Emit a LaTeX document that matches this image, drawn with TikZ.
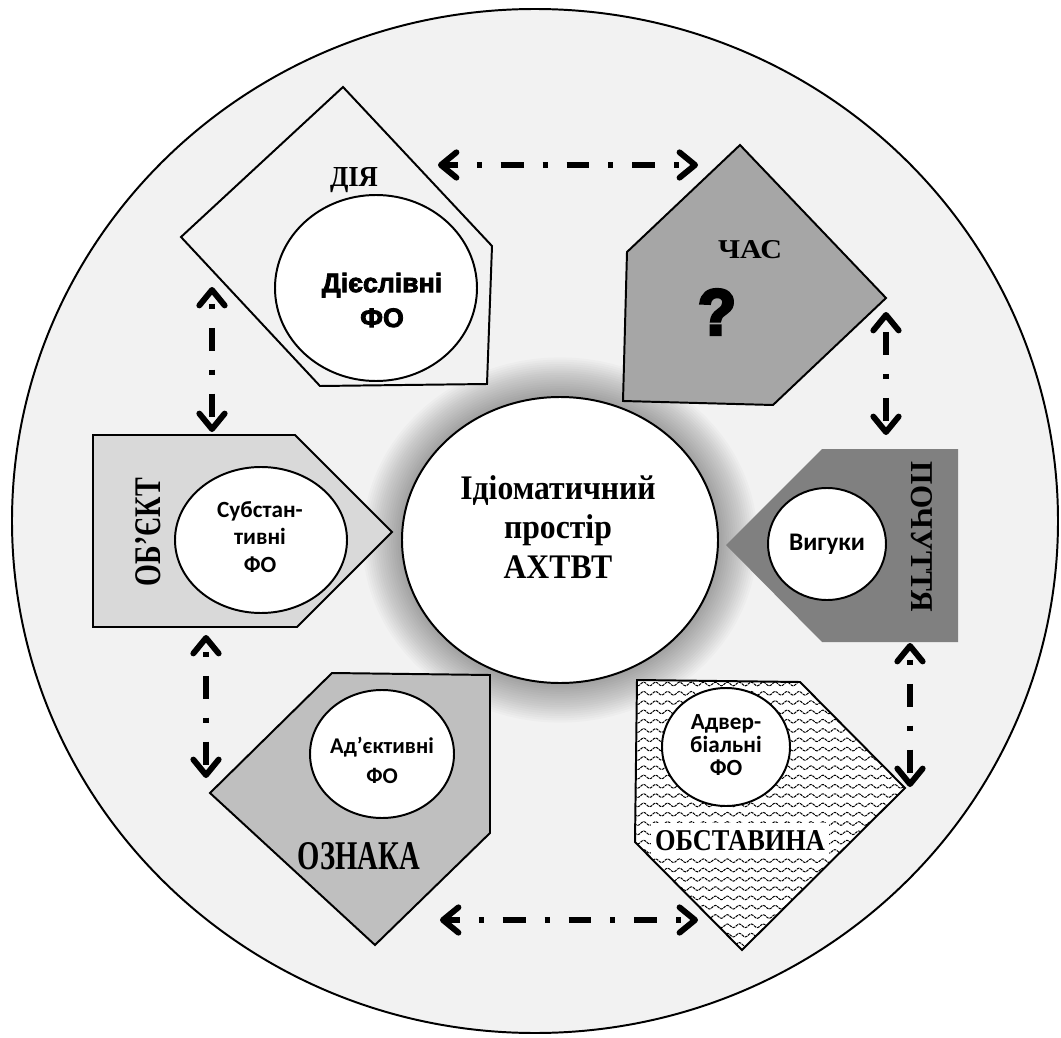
\documentclass[tikz,border=0pt]{standalone}
\usepackage{fontspec}
\setmainfont{Liberation Serif}
\newfontfamily\calfont{Carlito}
\newfontfamily\heavyfont{Liberation Sans Bold}[FakeBold=3]
\newfontfamily\blackfont{Liberation Sans Bold}[FakeBold=5]
\usetikzlibrary{shapes.geometric,arrows.meta,decorations.pathmorphing}
\newlength\upx \setlength\upx{0.025cm}
\definecolor{bgc}{HTML}{F2F2F2}
\definecolor{timec}{HTML}{A6A6A6}
\definecolor{objc}{HTML}{D9D9D9}
\definecolor{feelc}{HTML}{808080}
\definecolor{attrc}{HTML}{BFBFBF}
\begin{document}
\begin{tikzpicture}[x=0.025cm, y=-0.025cm,
  panel/.style={line width=1.4pt, line join=miter},
  disc/.style={ellipse, draw, line width=1.4pt, fill=white, inner sep=0pt},
  smalltxt/.style 2 args={align=center, inner sep=0pt, font=\calfont\bfseries\fontsize{#1}{#2}\selectfont},
  heavytxt/.style={align=center, inner sep=0pt, font=\heavyfont\fontsize{19pt}{24.8pt}\selectfont},
  tag/.style={inner sep=0pt, font=\bfseries},
  link/.style={line width=4.2pt, dash pattern=on 3.5pt off 13.5pt on 16.3pt off 13.5pt,
    arrows={Straight Barb[length=11pt,width=18pt,round]-Straight Barb[length=11pt,width=18pt,round]}},
  wave/.style={line width=0.7pt, dash pattern=on 2pt off 0.6pt, decorate,
    decoration={snake, segment length=8.5pt, amplitude=1.3pt}}
]
\useasboundingbox[fill=white] (0,0) rectangle (1061,1038);

% outer field
\draw[line width=1.4pt, fill=bgc] (535,521) ellipse [x radius=523, y radius=512];

% soft glow round the core, built from stacked translucent rings
\foreach \k in {1,...,18} {
  \fill[black, opacity=0.021] (560,540) ellipse [x radius={158+2.2*\k}, y radius={143+2.2*\k}];
}

% ДІЯ
\draw[panel, fill=bgc] (343,87) -- (492,246) -- (487,384) -- (320,386) -- (181,237) -- cycle;
% ЧАС
\draw[panel, fill=timec] (740,145) -- (886,298) -- (773,405) -- (623,401) -- (627,252) -- cycle;
% ОБ'ЄКТ
\draw[panel, fill=objc] (93,435) -- (295,435) -- (392,532) -- (297,627) -- (93,627) -- cycle;
% ПОЧУТТЯ
\fill[feelc] (822,449) -- (958,449) -- (958,642) -- (822,642) -- (726,545) -- cycle;
% ОЗНАКА
\draw[panel, fill=attrc] (332,673) -- (490,675) -- (490,833) -- (375,945) -- (210,793) -- cycle;
% ОБСТАВИНА with wavy texture
\fill[white] (637,680) -- (800,682) -- (905,788) -- (742,950) -- (635,842) -- cycle;
\begin{scope}
  \clip (637,680) -- (800,682) -- (905,788) -- (742,950) -- (635,842) -- cycle;
  \foreach \r in {0,...,29} {
    \draw[wave] (628,{684+\r*9.3}) -- (915,{684+\r*9.3});
  }
\end{scope}
\draw[panel] (637,680) -- (800,682) -- (905,788) -- (742,950) -- (635,842) -- cycle;

% core
\node[disc, minimum width=316\upx, minimum height=286\upx] (core) at (560,540) {};
\node[align=center, inner sep=0pt, font=\bfseries\fontsize{24.5pt}{28.3pt}\selectfont] (coretxt) at (558,531)
  {\scalebox{0.92}[1]{\begin{tabular}{@{}c@{}}Ідіоматичний\\простір\\АХТВТ\end{tabular}}};

% inner discs
\node[disc, minimum width=202\upx, minimum height=186\upx] (verbs) at (376,288) {};
\node[heavytxt] (verbstxt) at (382,300) {Дієслівні\\ФО};

\node[disc, minimum width=172\upx, minimum height=146\upx] (nouns) at (261,540) {};
\node[smalltxt={16.5pt}{19.8pt}] (nounstxt) at (260,537) {Субстан-\\тивні\\ФО};

\node[disc, minimum width=118\upx, minimum height=112\upx] (interj) at (827,544) {};
\node[smalltxt={18pt}{20pt}] (interjtxt) at (827,544) {Вигуки};

\node[disc, minimum width=144\upx, minimum height=128\upx] (adjs) at (382,754) {};
\node[smalltxt={16pt}{21.3pt}] (adjstxt) at (382,760) {Ад’єктивні\\ФО};

\node[disc, minimum width=128\upx, minimum height=118\upx] (advs) at (726,747) {};
\node[smalltxt={16.5pt}{16.5pt}] (advstxt) at (726,745) {Адвер-\\біальні\\ФО};

% category labels
\node[tag, anchor=base] (lblact) at (354,187) {\resizebox{48\upx}{19\upx}{ДІЯ}};
\node[tag, anchor=base] (lbltime) at (750,258) {\resizebox{64\upx}{18\upx}{ЧАС}};
\node[inner sep=0pt] (qmark) at (717,312) {\resizebox{38\upx}{45\upx}{\blackfont ?}};
\node[tag, rotate=90] (lblobj) at (148,532) {\resizebox{108\upx}{25\upx}{ОБ’ЄКТ}};
\node[tag, rotate=-90] (lblfeel) at (922,537) {\resizebox{150\upx}{21\upx}{ПОЧУТТЯ}};
\node[tag, anchor=base] (lblattr) at (359,869) {\resizebox{122\upx}{27\upx}{ОЗНАКА}};
\node[tag, anchor=base, fill=white, inner xsep=2.5pt, inner ysep=5pt] (lblcirc) at (740,850)
  {\resizebox{170\upx}{20\upx}{ОБСТАВИНА}};

% connector ends
\coordinate (t1) at (438,165); \coordinate (t2) at (698,165);
\coordinate (l1) at (212,287); \coordinate (l2) at (212,432);
\coordinate (r1) at (886,312); \coordinate (r2) at (886,435);
\coordinate (l3) at (206,635); \coordinate (l4) at (206,778);
\coordinate (r3) at (910,643); \coordinate (r4) at (910,787);
\coordinate (b1) at (440,920); \coordinate (b2) at (698,920);

\draw[link, dash phase=23.4pt] (t1) -- (t2);
\draw[link, dash phase=39pt] (l1) -- (l2);
\draw[link, dash phase=7pt] (r1) -- (r2);
\draw[link, dash phase=39pt] (l3) -- (l4);
\draw[link, dash phase=39pt] (r3) -- (r4);
\draw[link, dash phase=23.4pt] (b1) -- (b2);
\end{tikzpicture}
\end{document}
